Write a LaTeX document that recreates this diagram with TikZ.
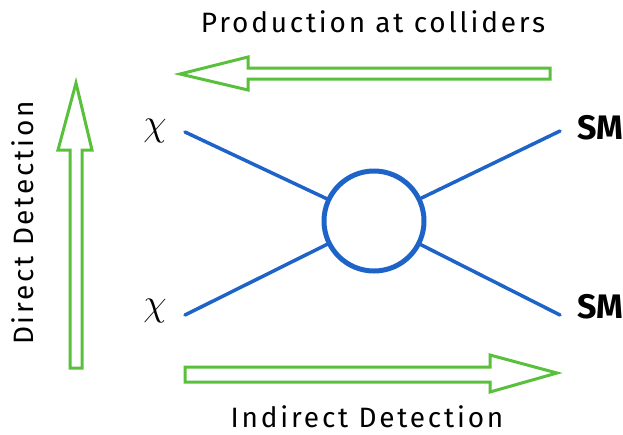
\documentclass[tikz,border=0pt]{standalone}
\usepackage{fix-cm}
\usepackage{fontspec}
\setmainfont{Fira Sans}
\newfontfamily\handfont[LetterSpace=10]{Fira Sans}
\definecolor{arrowgreen}{RGB}{88,192,58}
\definecolor{lineblue}{RGB}{30,100,200}
\begin{document}
\begin{tikzpicture}[x=1pt,y=-1pt,
  hollowarrow/.style={draw=arrowgreen, line width=3pt, line join=miter, fill=white},
  prop/.style={draw=lineblue, line width=3.5pt, line cap=round},
  lbl/.style={font=\handfont\fontsize{28}{32}\selectfont, inner sep=0pt},
  smlbl/.style={font=\bfseries\fontsize{34}{40}\selectfont, inner sep=0pt},
  chilbl/.style={font=\fontsize{38}{42}\selectfont, inner sep=0pt}]
\useasboundingbox (0,0) rectangle (623,434);
% hollow arrows
\draw[hollowarrow] (180,74) -- (248,57) -- (248,68) -- (550,68) -- (550,79) -- (248,79) -- (248,90) -- cycle;
\draw[hollowarrow] (76,83) -- (92,150) -- (82,150) -- (82,368) -- (70,368) -- (70,150) -- (58,150) -- cycle;
\draw[hollowarrow] (557,373) -- (490,392) -- (490,382) -- (185,382) -- (185,367) -- (490,367) -- (490,355) -- cycle;
% blob
\node[circle, draw=lineblue, line width=5pt, minimum size=100pt, inner sep=0pt] (blob) at (374,221) {};
\coordinate (a1) at (185,132);
\coordinate (a2) at (185,315);
\coordinate (b1) at (560,131);
\coordinate (b2) at (560,315);
\draw[prop] (a1) -- (blob);
\draw[prop] (a2) -- (blob);
\draw[prop] (b1) -- (blob);
\draw[prop] (b2) -- (blob);
% labels
\node[chilbl] (chi1) at (155,131) {$\chi$};
\node[chilbl] (chi2) at (155,311) {$\chi$};
\node[smlbl] (sm1) at (600,128) {SM};
\node[smlbl] (sm2) at (600,307) {SM};
\node[lbl, anchor=base] (prod) at (373,32) {Production at colliders};
\node[lbl, anchor=base] (indir) at (367,427) {Indirect Detection};
\node[lbl, rotate=90, anchor=base] (direct) at (33,223) {Direct Detection};
\end{tikzpicture}
\end{document}
